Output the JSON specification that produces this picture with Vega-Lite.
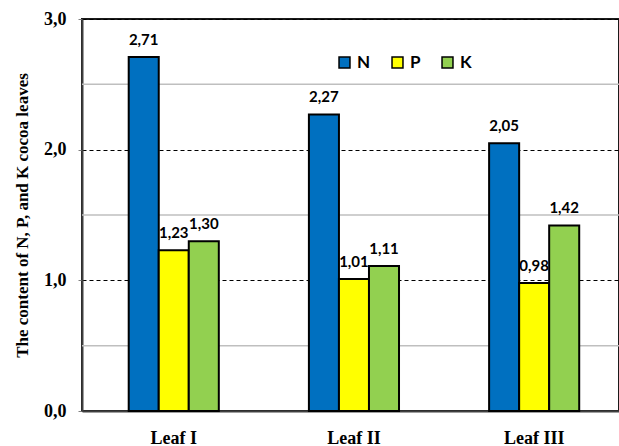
{
  "$schema": "https://vega.github.io/schema/vega-lite/v6.json",
  "width": 537,
  "height": 392,
  "autosize": "none",
  "padding": {"left": 82, "top": 19, "right": 0, "bottom": 35},
  "background": "white",
  "config": {
    "locale": {"number": {"decimal": ",", "thousands": ".", "grouping": [3], "currency": ["", ""]}},
    "view": {"stroke": "#1a1a1a", "strokeWidth": 2},
    "axisX": {"labelFont": "Liberation Serif", "labelFontWeight": "bold", "labelColor": "#000", "labelFontSize": 18, "labelPadding": 18, "labelAngle": 0, "ticks": false, "domainColor": "#404040", "domainWidth": 2},
    "axisY": {"labelFont": "Liberation Serif", "labelFontWeight": "bold", "labelColor": "#000", "labelFontSize": 18, "labelPadding": 12,
      "titleFont": "Liberation Serif", "titleFontWeight": "bold", "titleColor": "#000", "titleFontSize": 17, "titlePadding": 12,
      "grid": true, "gridColor": "#000", "gridDash": [4, 3], "gridWidth": 1,
      "domainColor": "#404040", "domainWidth": 2, "tickColor": "#808080", "tickSize": 4}
  },
  "datasets": {
    "vals": [
      {"leaf": "Leaf I", "element": "N", "value": 2.71},
      {"leaf": "Leaf I", "element": "P", "value": 1.23},
      {"leaf": "Leaf I", "element": "K", "value": 1.30},
      {"leaf": "Leaf II", "element": "N", "value": 2.27},
      {"leaf": "Leaf II", "element": "P", "value": 1.01},
      {"leaf": "Leaf II", "element": "K", "value": 1.11},
      {"leaf": "Leaf III", "element": "N", "value": 2.05},
      {"leaf": "Leaf III", "element": "P", "value": 0.98},
      {"leaf": "Leaf III", "element": "K", "value": 1.42}
    ],
    "minor": [{"g": 0.5}, {"g": 1.5}, {"g": 2.5}]
  },
  "layer": [
    {
      "data": {"name": "minor"},
      "mark": {"type": "rule", "color": "#bfbfbf", "strokeWidth": 1.5},
      "encoding": {
        "y": {"field": "g", "type": "quantitative", "scale": {"domain": [0, 3], "nice": false},
          "axis": {"title": "The content of N, P, and K cocoa leaves", "values": [0, 1, 2, 3], "format": ".1f"}}
      }
    },
    {
      "data": {"name": "vals"},
      "mark": {"type": "bar", "stroke": "#000", "strokeWidth": 2},
      "encoding": {
        "x": {
          "field": "leaf", "type": "nominal", "sort": ["Leaf I", "Leaf II", "Leaf III"],
          "scale": {"paddingInner": 0.5, "paddingOuter": 0.24, "align": 0.54},
          "axis": {"title": null}
        },
        "xOffset": {"field": "element", "type": "nominal", "sort": ["N", "P", "K"], "scale": {"paddingInner": 0, "paddingOuter": 0}},
        "y": {
          "field": "value", "type": "quantitative",
          "scale": {"domain": [0, 3], "nice": false},
          "axis": {"title": "The content of N, P, and K cocoa leaves", "values": [0, 1, 2, 3], "format": ".1f"}
        },
        "color": {
          "field": "element", "type": "nominal", "sort": ["N", "P", "K"],
          "scale": {"domain": ["N", "P", "K"], "range": ["#0070C0", "#FFFF00", "#92D050"]},
          "legend": {
            "title": null, "orient": "none", "legendX": 254, "legendY": 35, "direction": "horizontal",
            "symbolType": "square", "symbolSize": 120, "symbolStrokeColor": "#000", "symbolStrokeWidth": 1.5,
            "labelFont": "Lato", "labelFontWeight": "bold", "labelFontSize": 17, "labelColor": "#000",
            "labelOffset": 4, "columnPadding": 18
          }
        }
      }
    },
    {
      "data": {"name": "vals"},
      "mark": {"type": "text", "baseline": "bottom", "dy": -9, "font": "Lato", "fontWeight": "bold", "fontSize": 15, "color": "#000"},
      "encoding": {
        "x": {"field": "leaf", "type": "nominal", "sort": ["Leaf I", "Leaf II", "Leaf III"], "axis": {"title": null}},
        "xOffset": {"field": "element", "type": "nominal", "sort": ["N", "P", "K"]},
        "y": {"field": "value", "type": "quantitative", "axis": {"title": "The content of N, P, and K cocoa leaves", "values": [0, 1, 2, 3], "format": ".1f"}},
        "text": {"field": "value", "type": "quantitative", "format": ".2f"}
      }
    }
  ]
}
